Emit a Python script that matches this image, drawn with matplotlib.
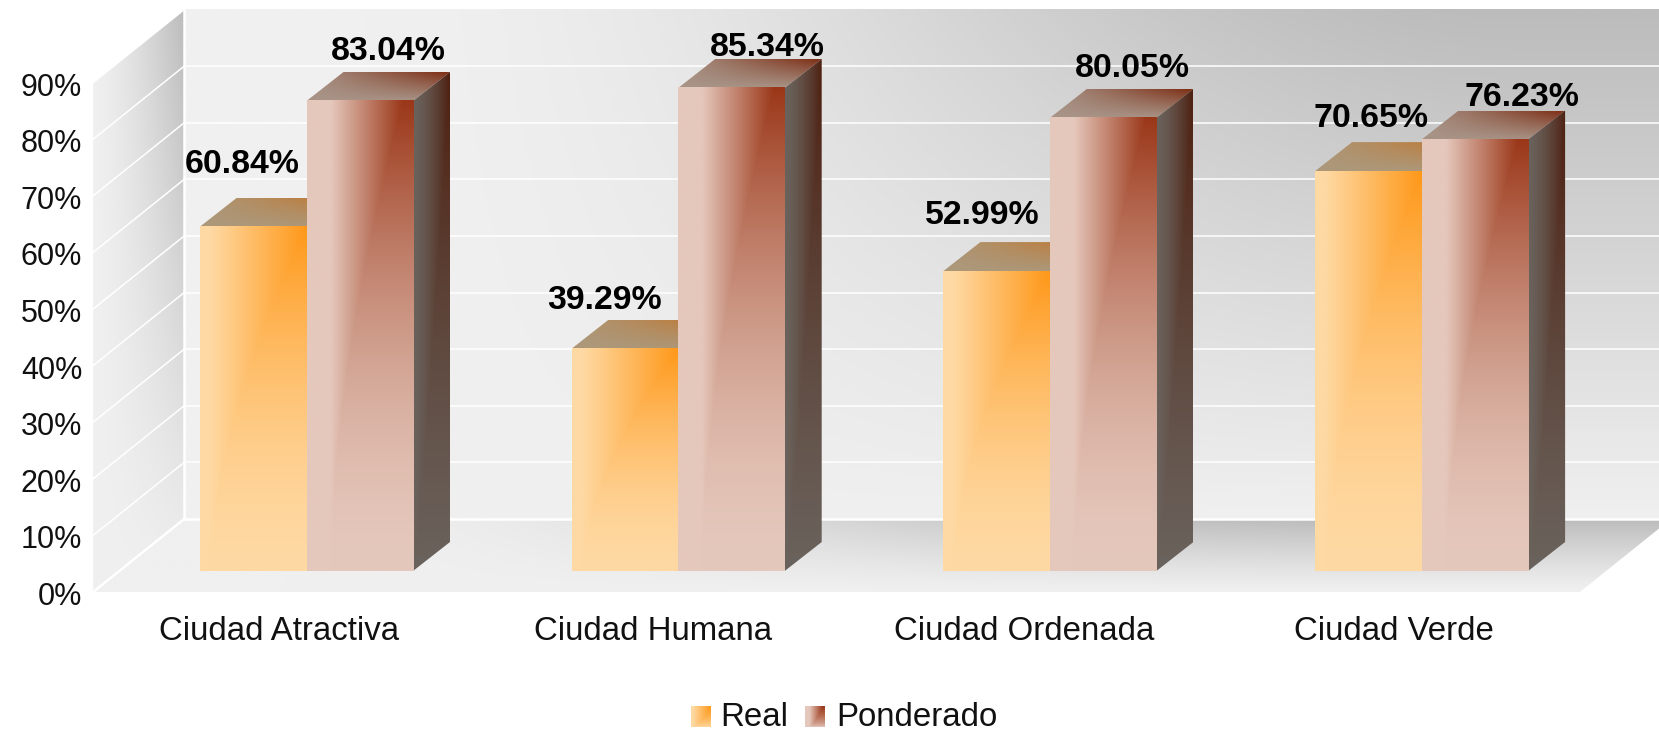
import numpy as np
import matplotlib
matplotlib.use('Agg')
import matplotlib.pyplot as plt
from matplotlib.patches import Polygon

categories = ['Ciudad Atractiva', 'Ciudad Humana', 'Ciudad Ordenada', 'Ciudad Verde']
real = [60.84, 39.29, 52.99, 70.65]
ponderado = [83.04, 85.34, 80.05, 76.23]
y_ticks = [0, 10, 20, 30, 40, 50, 60, 70, 80, 90]
series_names = ['Real', 'Ponderado']

W, H = 1659, 730
# scale of the bar plane, in pixels per category / per percent
X_PX = 371.7
Y_PX = 5.66
X0_PX = 306.5
Y0_PX = 571

# 3d offsets from the front of the bars
FRONT_DX, FRONT_DY = -27.5 / X_PX, -21 / Y_PX
BACK_DX, BACK_DY = 63.5 / X_PX, 52 / Y_PX
BAR_DX, BAR_DY = 37 / X_PX, 29 / Y_PX
BAR_W = 106.5 / X_PX
LEFT, RIGHT = -0.5, 3.5

# label offsets from the middle/top of each bar, pixels
real_off = [(-11, 54), (-20, 40), (-14, 47), (3, 44)]
pond_off = [(29, 41), (36, 32), (29, 41), (47, 34)]
cat_shift = [0, 2, 2, 0]

ORANGE = ((254, 217, 163), (255, 152, 25))
BROWN = ((229, 200, 188), (155, 55, 25))
SIDE = ((106, 98, 92), (78, 32, 16))
TOP_O = ((172, 152, 122), (192, 120, 50))
TOP_B = ((168, 148, 135), (125, 45, 20))

plt.rcParams['font.family'] = ['Liberation Sans', 'DejaVu Sans']

fig = plt.figure(figsize=(W / 100, H / 100), dpi=100)
ax = fig.add_axes([0, 0, 1, 1])


def grid_xy(n=160):
    x = np.linspace(0, 1, n)
    y = np.linspace(1, 0, n)
    return np.meshgrid(x, y)


def smooth(t, a, b):
    s = np.clip((t - a) / (b - a), 0, 1)
    return s * s * (3 - 2 * s)


def paint(ax, extent, colors, f, poly=None, z=1):
    c0 = np.array(colors[0], dtype=float) / 255
    c1 = np.array(colors[1], dtype=float) / 255
    img = c0 + (c1 - c0) * np.clip(f, 0, 1)[..., None]
    im = ax.imshow(img, extent=extent, aspect='auto', interpolation='bilinear', zorder=z)
    if poly is not None:
        patch = Polygon(poly, closed=True, transform=ax.transData, fc='none', ec='none')
        im.set_clip_path(patch)
    return im


def front_shade(steep=0.9, start=0.1, power=1.7):
    xx, yy = grid_xy()
    g = (xx - start) / steep
    v = yy ** power
    return np.minimum(g, v)


GREY = ((240, 240, 240), (188, 188, 188))
xx, yy = grid_xy()

# back wall
bx0, bx1 = LEFT + BACK_DX, RIGHT + BACK_DX
by0, by1 = BACK_DY, BACK_DY + 90
paint(ax, (bx0, bx1, by0, by1), GREY, smooth(xx, 0.12, 0.9) * yy, z=1)

# floor
fx0, fx1 = LEFT + FRONT_DX, RIGHT + FRONT_DX
floor = [(fx0, FRONT_DY), (fx1, FRONT_DY), (bx1, BACK_DY), (bx0, BACK_DY)]
paint(ax, (fx0, bx1, FRONT_DY, BACK_DY), GREY, smooth(xx, 0.12, 0.8) * yy ** 1.2, poly=floor, z=1)

# left wall
wall = [(fx0, FRONT_DY), (bx0, BACK_DY), (bx0, by1), (fx0, FRONT_DY + 90)]
paint(ax, (fx0, bx0, FRONT_DY, by1), GREY, xx ** 1.4 * yy, poly=wall, z=1)

# grid lines on the walls
for t in y_ticks:
    lw = 1.8 if t == 0 else 1.1
    if t < 90:
        ax.plot([bx0, bx1], [BACK_DY + t, BACK_DY + t], color='white', lw=lw, zorder=2)
    ax.plot([fx0, bx0], [FRONT_DY + t, BACK_DY + t], color='white', lw=lw, zorder=2)
ax.plot([bx0, bx0], [by0, by1], color='white', lw=1.8, zorder=2)

# bars, back to front in drawing order
for i in range(len(categories)):
    z = 3
    # real
    x0, x1 = i - BAR_W, i
    v = real[i]
    top = [(x0, v), (x1, v), (x1 + BAR_DX, v + BAR_DY), (x0 + BAR_DX, v + BAR_DY)]
    paint(ax, (x0, x1 + BAR_DX, v, v + BAR_DY), TOP_O, xx * yy, poly=top, z=z)
    paint(ax, (x0, x1, 0, v), ORANGE, front_shade(), z=z + 0.1)
    # ponderado
    x0, x1 = i, i + BAR_W
    v = ponderado[i]
    top = [(x0, v), (x1, v), (x1 + BAR_DX, v + BAR_DY), (x0 + BAR_DX, v + BAR_DY)]
    paint(ax, (x0, x1 + BAR_DX, v, v + BAR_DY), TOP_B, xx * yy, poly=top, z=z + 0.2)
    side = [(x1, 0), (x1 + BAR_DX, BAR_DY), (x1 + BAR_DX, v + BAR_DY), (x1, v)]
    paint(ax, (x1, x1 + BAR_DX, 0, v + BAR_DY), SIDE, np.minimum(xx ** 1.5, yy ** 1.2), poly=side, z=z + 0.2)
    paint(ax, (x0, x1, 0, v), BROWN, front_shade(0.68, 0.22, 1.7), z=z + 0.3)

    for val, xc, off in [(real[i], i - BAR_W / 2, real_off[i]), (ponderado[i], i + BAR_W / 2, pond_off[i])]:
        ax.text(xc + off[0] / X_PX, val + off[1] / Y_PX, '%.2f%%' % val, ha='center', va='baseline',
                fontsize=24.4, fontweight='bold', color='black', zorder=6)

    ax.text(i + FRONT_DX + cat_shift[i] / X_PX, -69 / Y_PX, categories[i], ha='center', va='baseline',
            fontsize=23.8, color='#111111', zorder=6)

for t in y_ticks:
    ax.text(fx0 - 11 / X_PX, FRONT_DY + t - 5 / Y_PX, '%d%%' % t, ha='right', va='center',
            fontsize=22, color='#111111', zorder=6)

ax.set_xlim((0 - X0_PX) / X_PX, (W - X0_PX) / X_PX)
ax.set_ylim((Y0_PX - H) / Y_PX, Y0_PX / Y_PX)
ax.axis('off')

# legend
for name, colors, sw_x, txt_x, kw in [
    (series_names[0], ORANGE, 691, 720, (0.9, 0.1, 0.7)),
    (series_names[1], BROWN, 805, 836, (0.68, 0.22, 0.7)),
]:
    sw = fig.add_axes([sw_x / W, 1 - 727 / H, 20 / W, 21 / H])
    paint(sw, (0, 1, 0, 1), colors, front_shade(*kw))
    sw.axis('off')
    fig.text(txt_x / W, 1 - 726 / H, name, ha='left', va='baseline', fontsize=23.8, color='#111111')

fig.savefig('out.png', dpi=100)
